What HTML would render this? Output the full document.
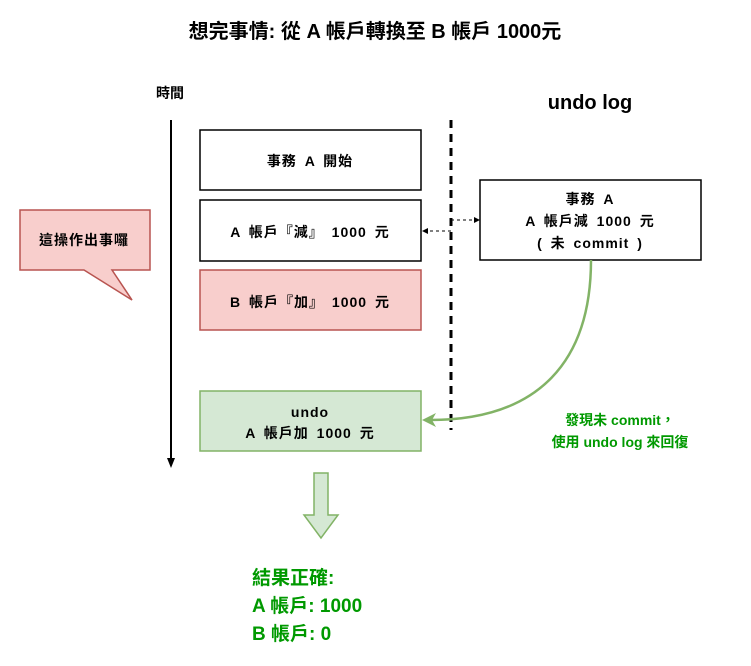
<!DOCTYPE html>
<html><head><meta charset="utf-8"><style>
body{margin:0;background:#fff;width:751px;height:661px;overflow:hidden}
svg text{font-family:"Liberation Sans","Noto Sans CJK TC",sans-serif;font-weight:bold}
.w{letter-spacing:1px;word-spacing:3px}
</style></head><body>
<svg width="751" height="661" viewBox="0 0 751 661" xmlns="http://www.w3.org/2000/svg">
<text x="375" y="38" text-anchor="middle" font-size="20" fill="#000">想完事情: 從 A 帳戶轉換至 B 帳戶 1000元</text>
<text x="170" y="98" text-anchor="middle" font-size="14">時間</text>
<text x="590" y="109" text-anchor="middle" font-size="20">undo log</text>
<line x1="171" y1="120" x2="171" y2="462" stroke="#000" stroke-width="2"/>
<path d="M167 458 L171 468 L175 458 Z" fill="#000"/>
<line x1="451" y1="120" x2="451" y2="430" stroke="#000" stroke-width="3" stroke-dasharray="8 6"/>
<rect x="200" y="130" width="221" height="60" fill="#fff" stroke="#000" stroke-width="1.5"/>
<text class="w" x="310" y="166" text-anchor="middle" font-size="14">事務 A 開始</text>
<rect x="200" y="200" width="221" height="61" fill="#fff" stroke="#000" stroke-width="1.5"/>
<text class="w" x="310" y="237" text-anchor="middle" font-size="14">A 帳戶『減』 1000 元</text>
<rect x="200" y="270" width="221" height="60" fill="#f8cecc" stroke="#b85450" stroke-width="1.5"/>
<text class="w" x="310" y="307" text-anchor="middle" font-size="14">B 帳戶『加』 1000 元</text>
<rect x="200" y="391" width="221" height="60" fill="#d5e8d4" stroke="#82b366" stroke-width="1.5"/>
<text class="w" x="310" y="417" text-anchor="middle" font-size="14">undo</text>
<text class="w" x="310" y="438" text-anchor="middle" font-size="14">A 帳戶加 1000 元</text>
<rect x="480" y="180" width="221" height="80" fill="#fff" stroke="#000" stroke-width="1.5"/>
<text class="w" x="590" y="204" text-anchor="middle" font-size="14">事務 A</text>
<text class="w" x="590" y="226" text-anchor="middle" font-size="14">A 帳戶減 1000 元</text>
<text class="w" x="590" y="248" text-anchor="middle" font-size="14">( 未 commit )</text>
<path d="M451 231 L428 231" stroke="#000" stroke-dasharray="3 3"/>
<path d="M428 228 L422 231 L428 234Z" fill="#000"/>
<path d="M451 220 L474 220" stroke="#000" stroke-dasharray="3 3"/>
<path d="M474 217 L480 220 L474 223Z" fill="#000"/>
<path d="M591 260 C591 360 540 420 430 420" fill="none" stroke="#82b366" stroke-width="2.5"/>
<path d="M436 413 L422 420 L436 427 L432 420Z" fill="#82b366"/>
<text x="620" y="425" text-anchor="middle" font-size="14" fill="#009900">發現未 commit，</text>
<text x="620" y="447" text-anchor="middle" font-size="14" fill="#009900">使用 undo log 來回復</text>
<path d="M20 210 L150 210 L150 270 L112 270 L132 300 L84 270 L20 270 Z" fill="#f8cecc" stroke="#b85450" stroke-width="1.5"/>
<text class="w" x="84" y="245" text-anchor="middle" font-size="14">這操作出事囉</text>
<path d="M314 473 L328 473 L328 515 L338 515 L321 538 L304 515 L314 515 Z" fill="#d5e8d4" stroke="#82b366" stroke-width="1.5"/>
<text x="252" y="584" font-size="19" fill="#009900">結果正確:</text>
<text x="252" y="612" font-size="19" fill="#009900">A 帳戶: 1000</text>
<text x="252" y="640" font-size="19" fill="#009900">B 帳戶: 0</text>
</svg>
</body></html>
